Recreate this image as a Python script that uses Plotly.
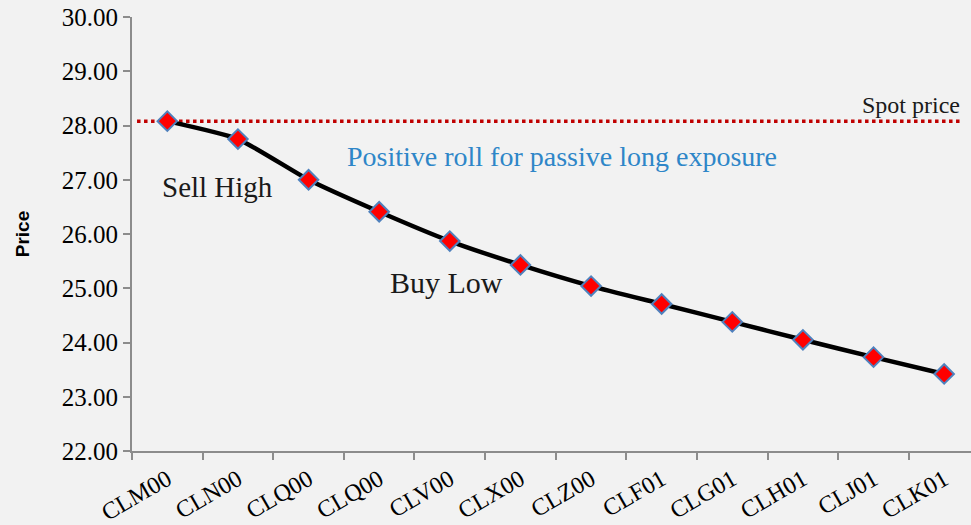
import plotly.graph_objects as go

contracts = ["CLM00", "CLN00", "CLQ00", "CLQ00", "CLV00", "CLX00",
             "CLZ00", "CLF01", "CLG01", "CLH01", "CLJ01", "CLK01"]
prices = [28.08, 27.75, 27.00, 26.41, 25.87, 25.43,
          25.04, 24.71, 24.38, 24.05, 23.73, 23.42]
spot_price = 28.08
y_ticks = [22, 23, 24, 25, 26, 27, 28, 29, 30]

xpos = list(range(len(contracts)))
serif = "Liberation Serif"

fig = go.Figure()
fig.add_trace(go.Scatter(
    x=xpos, y=prices, mode="lines+markers",
    line=dict(color="black", width=4.5, shape="spline", smoothing=0.5),
    marker=dict(symbol="diamond", size=15, color="#ff0000",
                line=dict(color="#4f81bd", width=2)),
    showlegend=False, hoverinfo="skip"))

fig.add_shape(type="line", xref="paper", x0=0.006, x1=0.99,
              yref="y", y0=spot_price, y1=spot_price,
              line=dict(color="#c00000", width=3.5, dash="dot"), layer="below")

fig.add_annotation(x=0.989, xref="paper", y=spot_price, yref="y", yshift=1,
                   text="Spot price", showarrow=False, xanchor="right", yanchor="bottom",
                   font=dict(family=serif, size=24, color="#1a1a1a"))
fig.add_annotation(x=0.254, xref="paper", y=27.42, yref="y",
                   text="Positive roll for passive long exposure", showarrow=False,
                   xanchor="left", yanchor="middle",
                   font=dict(family=serif, size=28, color="#2e86c8"))
fig.add_annotation(x=0.033, xref="paper", y=26.87, yref="y",
                   text="Sell High", showarrow=False, xanchor="left", yanchor="middle",
                   font=dict(family=serif, size=29, color="#1a1a1a"))
fig.add_annotation(x=0.305, xref="paper", y=25.10, yref="y",
                   text="Buy Low", showarrow=False, xanchor="left", yanchor="middle",
                   font=dict(family=serif, size=30, color="#1a1a1a"))

fig.update_layout(
    width=971, height=525,
    margin=dict(l=132, r=0, t=17, b=74),
    paper_bgcolor="#f2f2f2", plot_bgcolor="#f2f2f2",
    xaxis=dict(range=[-0.5, 11.38], tickvals=xpos, ticktext=contracts,
               tickangle=-30, ticks="", showgrid=False, zeroline=False,
               showline=True, linecolor="#8c8c8c", linewidth=2, automargin=False,
               ticklabelstandoff=3,
               tickfont=dict(family=serif, size=24, color="black"),
               minor=dict(tickvals=[i - 0.5 for i in xpos], ticks="outside",
                          ticklen=7, tickcolor="#8c8c8c", tickwidth=2, showgrid=False)),
    yaxis=dict(range=[22, 30], tickvals=y_ticks,
               ticktext=[f"{v:.2f}" for v in y_ticks],
               ticks="outside", ticklen=7, tickcolor="#8c8c8c", tickwidth=2,
               showgrid=False, zeroline=False, showline=True, automargin=False,
               linecolor="#8c8c8c", linewidth=2,
               tickfont=dict(family=serif, size=25, color="black"),
               title=dict(text="<b>Price</b>", standoff=27,
                          font=dict(family="Liberation Sans", size=19, color="black"))),
)

fig.write_html("out.html", config={"displayModeBar": False},
               post_script="document.body.style.margin='0';document.body.style.overflow='hidden';")
